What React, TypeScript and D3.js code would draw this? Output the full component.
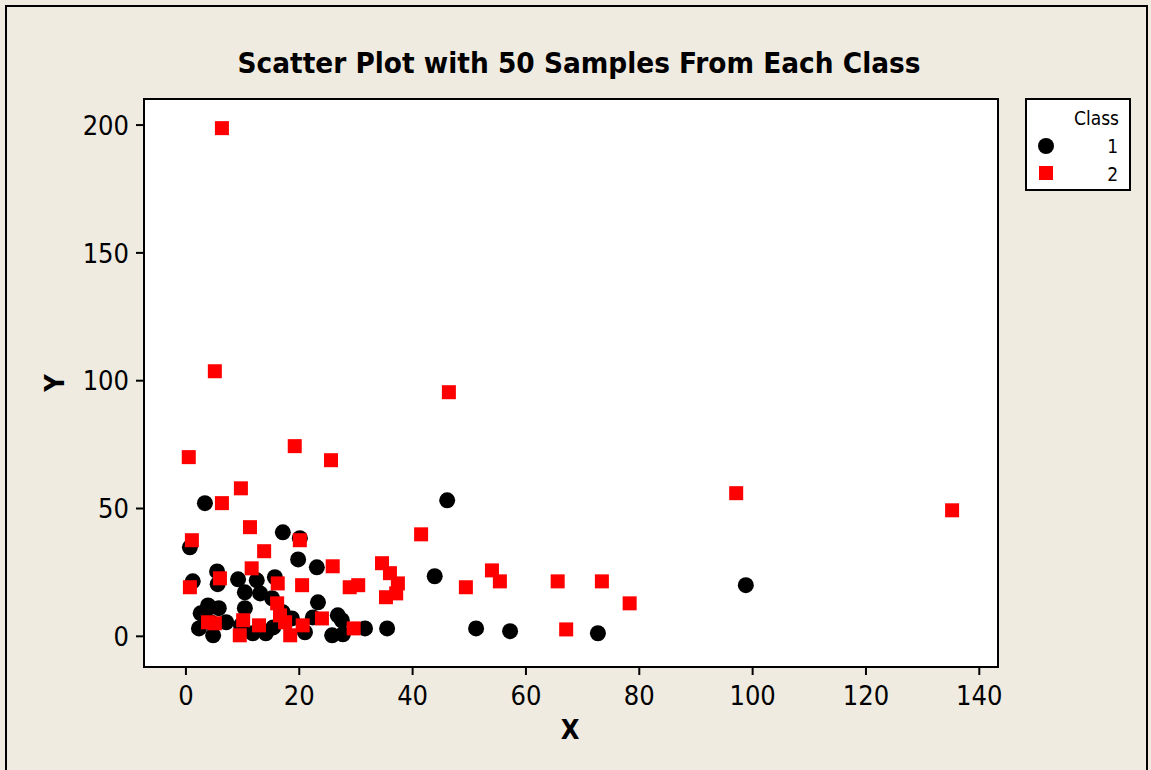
import React from "react";
import * as d3 from "d3";

// class 1 (black circles)
const class1X = [3.35, 17.1, 20.1, 0.7, 19.8, 23.1, 46.1, 43.9, 98.8, 51.2, 57.2, 72.7, 35.5, 31.6, 5.5, 1.2, 5.6, 9.2, 12.5, 15.7, 10.4, 13.1, 15.2, 23.3, 3.9, 5.8, 10.4, 2.6, 2.3, 4.8, 7.1, 11.8, 14.1, 18.7, 21.0, 22.4, 26.8, 27.5, 25.8, 27.7, 15.4, 4.2, 4.4, 9.7, 17.1];
const class1Y = [52.1, 40.7, 38.4, 34.8, 30.1, 27.0, 53.2, 23.5, 20.0, 3.1, 2.0, 1.2, 3.1, 3.1, 25.4, 21.5, 20.4, 22.3, 21.9, 23.1, 17.2, 16.8, 14.9, 13.3, 12.1, 11.0, 11.0, 9.0, 3.1, 0.4, 5.5, 1.2, 1.2, 7.0, 1.6, 7.4, 8.2, 6.3, 0.4, 0.8, 3.5, 11.4, 5.5, 4.3, 9.4];

// class 2 (red squares)
const class2X = [6.35, 5.1, 0.5, 46.4, 19.2, 25.6, 9.7, 6.35, 1.05, 11.3, 20.1, 13.8, 0.7, 6.0, 11.6, 16.2, 20.5, 25.9, 41.5, 34.6, 36.0, 37.4, 37.1, 35.3, 30.4, 28.9, 49.4, 54.0, 55.4, 65.6, 73.4, 78.3, 67.1, 97.1, 135.2, 3.9, 5.1, 10.1, 9.5, 12.9, 16.1, 16.6, 17.5, 18.4, 20.6, 24.0, 29.6];
const class2Y = [198.8, 103.7, 70.1, 95.5, 74.4, 68.9, 57.9, 52.1, 37.6, 42.7, 37.6, 33.3, 19.2, 22.7, 26.6, 20.7, 20.0, 27.4, 39.9, 28.6, 24.7, 20.7, 16.8, 15.3, 20.0, 19.2, 19.2, 25.8, 21.5, 21.5, 21.5, 12.9, 2.7, 56.0, 49.3, 5.5, 5.1, 6.3, 0.4, 4.3, 12.9, 8.2, 5.5, 0.4, 4.3, 7.0, 3.1];

const xTicks = [0, 20, 40, 60, 80, 100, 120, 140];
const yTicks = [0, 50, 100, 150, 200];
const legendLabels = ["1", "2"];

const W = 1151;
const H = 770;
const plot = { left: 144, right: 998, top: 99, bottom: 667 };
const font = "Tahoma, 'DejaVu Sans Condensed', 'DejaVu Sans', sans-serif";

export default function App() {
  const x = d3.scaleLinear().domain([-7.4, 143.3]).range([plot.left, plot.right]);
  const y = d3.scaleLinear().domain([-12, 210.2]).range([plot.bottom, plot.top]);
  const sq = 14;

  return (
    <svg width={W} height={H} style={{ position: "absolute", left: 0, top: 0 }}>
      <rect x={0} y={0} width={W} height={H} fill="#efebe1" />
      <rect x={6} y={6} width={1141} height={H + 10} fill="none" stroke="#000" strokeWidth={2} />
      <text x={579} y={73} textAnchor="middle" fontFamily={font} fontWeight="bold" fontSize={28}
        textLength={683} lengthAdjust="spacingAndGlyphs">
        Scatter Plot with 50 Samples From Each Class
      </text>

      <rect x={plot.left} y={plot.top} width={plot.right - plot.left} height={plot.bottom - plot.top}
        fill="#fff" stroke="#000" strokeWidth={2} />

      {/* y axis */}
      {yTicks.map((t) => (
        <g key={"y" + t}>
          <line x1={plot.left - 8} x2={plot.left} y1={y(t)} y2={y(t)} stroke="#000" strokeWidth={2} />
          <text x={plot.left - 15} y={y(t)} dy="0.36em" textAnchor="end" fontFamily={font} fontSize={27}>{t}</text>
        </g>
      ))}
      {/* x axis */}
      {xTicks.map((t) => (
        <g key={"x" + t}>
          <line x1={x(t)} x2={x(t)} y1={plot.bottom} y2={plot.bottom + 8} stroke="#000" strokeWidth={2} />
          <text x={x(t)} y={705} textAnchor="middle" fontFamily={font} fontSize={27}>{t}</text>
        </g>
      ))}
      <text x={570} y={739} textAnchor="middle" fontFamily={font} fontWeight="bold" fontSize={27}>X</text>
      <text transform="translate(64,383) rotate(-90)" textAnchor="middle" fontFamily={font} fontWeight="bold" fontSize={27}>Y</text>

      {/* points */}
      <g>
        {class1X.map((v, i) => (
          <circle key={"c" + i} cx={x(v)} cy={y(class1Y[i])} r={8} fill="#000" />
        ))}
        {class2X.map((v, i) => (
          <rect key={"s" + i} x={x(v) - sq / 2} y={y(class2Y[i]) - sq / 2} width={sq} height={sq} fill="#ff0000" />
        ))}
      </g>

      {/* legend */}
      <rect x={1026} y={99} width={104} height={91} fill="#fff" stroke="#000" strokeWidth={2} />
      <text x={1119} y={125} textAnchor="end" fontFamily={font} fontSize={19}>Class</text>
      <circle cx={1046} cy={146} r={8} fill="#000" />
      <rect x={1039} y={166} width={sq} height={sq} fill="#ff0000" />
      {legendLabels.map((l, i) => (
        <text key={l} x={1118} y={153 + i * 28} textAnchor="end" fontFamily={font} fontSize={19}>{l}</text>
      ))}
    </svg>
  );
}
